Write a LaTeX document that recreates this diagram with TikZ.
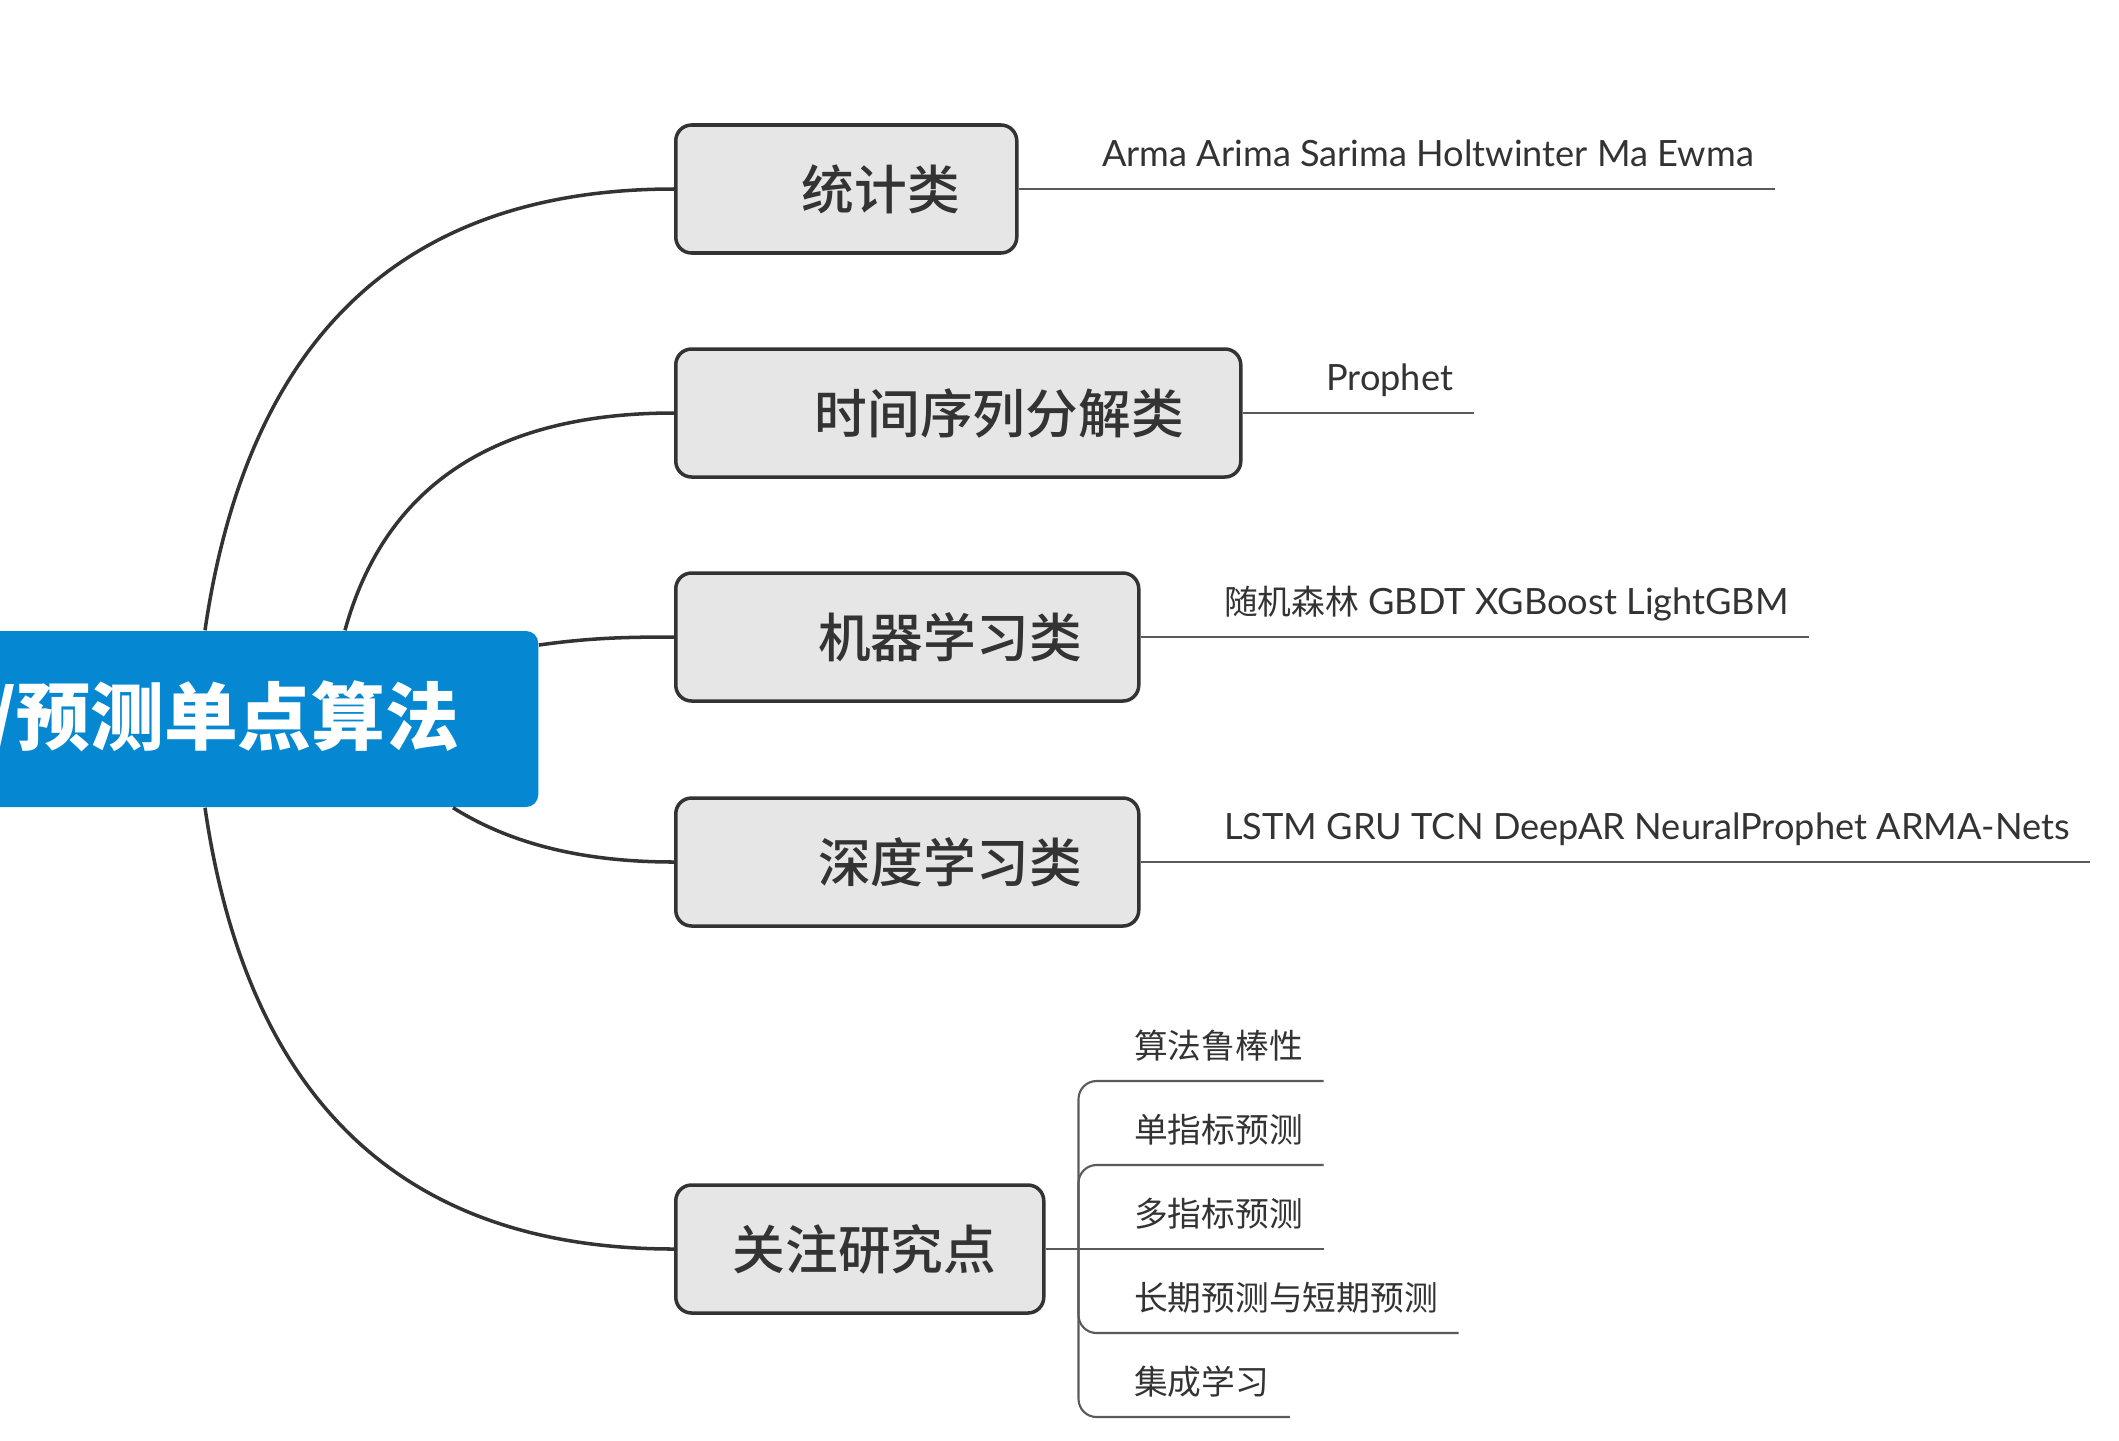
\documentclass[tikz,border=0pt]{standalone}
\usepackage{fontspec}
\setmainfont{Lato}
\newfontfamily\cjk{Noto Sans CJK SC}
\newfontfamily\cjkmed{Noto Sans CJK SC Medium}
\usetikzlibrary{positioning}
\definecolor{rootblue}{HTML}{0588D1}
\definecolor{boxfill}{HTML}{E6E6E6}
\definecolor{ink}{HTML}{333333}
\definecolor{twig}{HTML}{5A5A5A}
\newcommand\hanzi{\cjk\fontsize{9.6}{12}\selectfont}

\begin{document}
\begin{tikzpicture}
 \tikzstyle{rootbox}=[rectangle,rounded corners=3.5pt,fill=rootblue,text=white,font=\cjk\bfseries\fontsize{21}{24}\selectfont,minimum height=1.76cm,inner xsep=0.79cm,text width=7cm,align=right,anchor=east]
 \tikzstyle{catbox}=[rectangle,rounded corners=4.5pt,draw=ink,line width=1pt,fill=boxfill,text=ink,font=\cjkmed\fontsize{15}{18}\selectfont,minimum height=1.28cm,inner xsep=0.57cm,align=right,anchor=west]
 \tikzstyle{leaf}=[inner xsep=0.2cm,inner ysep=0.22cm,text depth=0pt,text=ink,font=\fontsize{10.3}{12}\selectfont]
 \tikzstyle{branch}=[draw=ink,line width=1pt]
 \tikzstyle{twigline}=[draw=twig,line width=0.6pt]
 \useasboundingbox (0,0) rectangle (21.19,-14.40);
 \node[rootbox] (root) at (5.39,-7.19) {/预测单点算法};
 \node[catbox,text width=2.27cm] (stat) at (6.74,-1.89) {统计类};
 \node[catbox,text width=4.51cm] (decomp) at (6.74,-4.13) {时间序列分解类};
 \node[catbox,text width=3.49cm] (ml) at (6.74,-6.37) {机器学习类};
 \node[catbox,text width=3.49cm] (dl) at (6.74,-8.62) {深度学习类};
 \node[catbox,text width=2.54cm,align=center] (focus) at (6.74,-12.49) {关注研究点};
 % root to categories
 \draw[branch] ([xshift=-3.34cm]root.north east) .. controls +(0.43,2.95) and +(-2.69,0) .. (stat.west);
 \draw[branch] ([xshift=-1.94cm]root.north east) .. controls +(0.40,1.45) and +(-1.79,0) .. (decomp.west);
 \draw[branch] ([yshift=0.74cm]root.east) .. controls +(0.5,0.07) and +(-0.5,0) .. (ml.west);
 \draw[branch] ([xshift=-0.86cm]root.south east) .. controls +(0.59,-0.37) and +(-0.89,0) .. (dl.west);
 \draw[branch] ([xshift=-3.34cm]root.south east) .. controls +(0.43,-2.95) and +(-2.69,0) .. (focus.west);
 % leaves
 \node[leaf,right=0.63cm of stat.east,anchor=south west] (statleaf) {Arma Arima Sarima Holtwinter Ma Ewma};
 \node[leaf,right=0.63cm of decomp.east,anchor=south west] (decompleaf) {Prophet};
 \node[leaf,right=0.63cm of ml.east,anchor=south west] (mlleaf) {{\hanzi 随机森林} GBDT XGBoost LightGBM};
 \node[leaf,right=0.63cm of dl.east,anchor=south west] (dlleaf) {LSTM GRU TCN DeepAR NeuralProphet ARMA-Nets};
 \draw[twigline] (stat.east) -- (statleaf.south east);
 \draw[twigline] (decomp.east) -- (decompleaf.south east);
 \draw[twigline] (ml.east) -- (mlleaf.south east);
 \draw[twigline] (dl.east) -- (dlleaf.south east);
 % focus points
 \coordinate (fork) at ([xshift=0.33cm]focus.east);
 \node[leaf,anchor=south west] (robust) at ([xshift=0.35cm,yshift=1.68cm]fork) {\hanzi 算法鲁棒性};
 \node[leaf,anchor=south west] (single) at ([xshift=0.35cm,yshift=0.84cm]fork) {\hanzi 单指标预测};
 \node[leaf,anchor=south west] (multi) at ([xshift=0.35cm]fork) {\hanzi 多指标预测};
 \node[leaf,anchor=south west] (horizon) at ([xshift=0.35cm,yshift=-0.84cm]fork) {\hanzi 长期预测与短期预测};
 \node[leaf,anchor=south west] (ensemble) at ([xshift=0.35cm,yshift=-1.68cm]fork) {\hanzi 集成学习};
 \draw[twigline] (focus.east) -- (multi.south east);
 \foreach \lf in {robust,single,horizon,ensemble}
  \draw[twigline,rounded corners=0.18cm] (fork) |- (\lf.south east);
\end{tikzpicture}
\end{document}
